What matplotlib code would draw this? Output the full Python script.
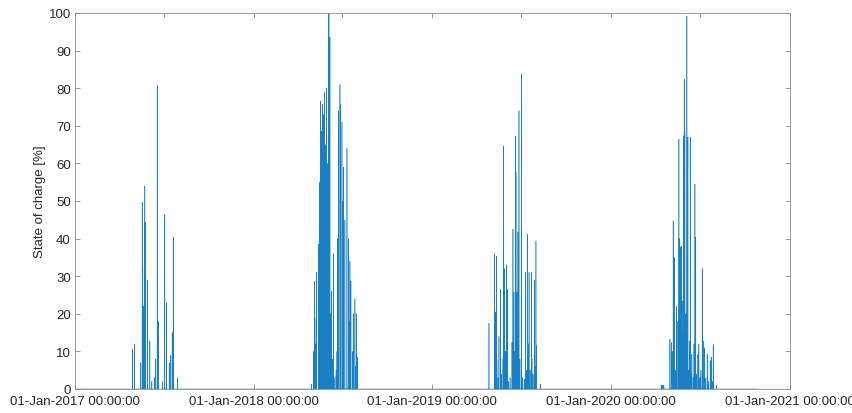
import datetime as dt
import matplotlib
matplotlib.use('Agg')
import matplotlib.pyplot as plt
import matplotlib.dates as mdates

# ---- data: charging spikes (day of year, state of charge %) ----
doy_2017 = [118.5, 122.6, 135.5, 138.3, 140.4, 142.4, 143.7, 144.5, 149.2, 153.9,
            158.0, 162.9, 166.1, 169.0, 169.6, 172.0, 179.8, 184.5, 188.0, 193.5,
            196.8, 199.6, 201.7, 210.5]
soc_2017 = [10.6, 12.0, 7.0, 49.7, 22.0, 33.0, 54.0, 44.4, 29.0, 12.8,
            2.0, 3.0, 8.0, 80.7, 31.0, 18.0, 2.0, 46.5, 23.0, 7.0,
            9.0, 15.0, 40.4, 3.0]

doy_2018 = [119.5, 123.0, 125.1, 126.3, 127.5, 129.8, 133.8, 135.3, 136.2,
            137.3, 140.0, 141.0, 142.0, 143.4, 145.5, 146.5, 147.5,
            150.2, 152.5, 153.7, 154.9, 156.9, 158.3, 160.4,
            162.0, 164.5, 167.0, 169.5, 171.2, 172.3, 174.7, 177.4,
            178.8, 181.5, 183.0, 184.3, 187.5, 191.7,
            194.5, 196.0, 197.8, 199.8, 203.0, 204.7, 208.0, 209.8,
            211.5, 213.5]
soc_2018 = [1.3, 10.0, 28.7, 19.0, 12.0, 31.0, 38.6, 42.0, 55.0,
            76.6, 68.6, 50.0, 75.8, 73.0, 79.0, 35.0, 65.0,
            80.0, 60.0, 99.7, 100.0, 93.6, 20.0, 26.0,
            8.0, 36.0, 3.0, 5.0, 10.0, 40.0, 74.0, 81.0,
            75.8, 71.0, 50.0, 59.0, 45.0, 64.0,
            40.0, 18.0, 34.0, 28.7, 10.0, 20.0, 24.0, 6.0,
            20.0, 8.5]

doy_2019 = [116.9, 128.3, 130.4, 131.8, 133.2, 135.5, 137.3, 140.6, 143.0, 145.5,
            146.7, 148.8, 150.5, 152.2, 154.3, 157.0, 160.0, 163.9, 165.9, 167.9,
            169.5, 171.2, 172.1, 174.1, 176.1, 178.2, 180.2, 183.5, 186.0, 189.0,
            191.8, 193.5, 195.9, 197.3, 198.8, 201.0, 203.5, 204.8, 207.0, 209.5,
            211.0, 212.9, 213.6, 222.4]
soc_2019 = [17.5, 36.0, 20.5, 35.4, 8.0, 3.0, 14.0, 26.6, 4.0, 8.0,
            64.7, 32.0, 10.0, 33.0, 26.6, 2.0, 3.0, 12.5, 42.5, 25.8,
            10.0, 67.3, 57.7, 25.8, 41.8, 74.0, 8.0, 83.8, 3.0, 2.6,
            31.0, 5.0, 41.2, 12.0, 31.0, 5.0, 31.0, 8.0, 4.0, 29.0,
            6.0, 39.4, 11.5, 1.3]

doy_2020 = [103.8, 105.5, 107.3, 109.3, 121.6, 124.2, 126.3, 128.3, 130.4, 132.5,
            135.3, 137.9, 140.0, 140.6, 142.6, 144.7, 146.7, 148.0, 149.6, 150.8,
            152.2, 154.3, 156.3, 158.4, 160.0, 161.8, 163.1, 164.8, 166.5, 169.0,
            170.8, 172.7, 174.1, 176.0, 178.8, 180.8, 183.0, 185.0, 187.6, 189.6,
            192.5, 195.0, 197.8, 200.0, 203.9, 206.0, 208.0, 210.1, 216.3]
soc_2020 = [1.0, 1.0, 1.0, 1.0, 13.3, 12.4, 10.0, 44.7, 35.0, 5.0,
            22.0, 18.0, 66.5, 40.0, 37.8, 38.0, 23.5, 15.0, 67.3, 82.4,
            68.6, 20.0, 99.2, 67.0, 5.0, 12.8, 67.0, 4.0, 9.3, 3.0,
            12.0, 54.5, 40.4, 4.0, 9.3, 12.0, 3.0, 5.0, 32.0, 12.8,
            11.0, 3.0, 9.3, 2.0, 7.5, 8.5, 2.0, 11.8, 1.0]

series_start = '2017-01-01'
series_end = '2020-10-28'
tick_years = [2017, 2018, 2019, 2020, 2021]
ylabel = 'State of charge [%]'

# ---- build the time series ----
events = []
for year, doys, socs in [(2017, doy_2017, soc_2017), (2018, doy_2018, soc_2018),
                         (2019, doy_2019, soc_2019), (2020, doy_2020, soc_2020)]:
    base = dt.datetime(year, 1, 1)
    for d, v in zip(doys, socs):
        t = base + dt.timedelta(days=d - 1)
        events.append((t - dt.timedelta(hours=3), 0.0))
        events.append((t, v))
        events.append((t + dt.timedelta(hours=3), 0.0))
events.append((dt.datetime.fromisoformat(series_start), 0.0))
events.append((dt.datetime.fromisoformat(series_end), 0.0))
events.sort(key=lambda e: e[0])
times = [e[0] for e in events]
vals = [e[1] for e in events]

# ---- plot ----
plt.rcParams['font.family'] = ['Liberation Sans', 'DejaVu Sans']
fig = plt.figure(figsize=(8.53, 4.14), dpi=100)
ax = fig.add_axes([75 / 853, 24 / 414, 715 / 853, 376 / 414])
ax.plot(times, vals, color='#0072BD', linewidth=0.4, alpha=0.9)

ax.set_xlim(dt.datetime(2017, 1, 1), dt.datetime(2021, 1, 1))
ax.set_ylim(0, 100)
ax.set_yticks(range(0, 101, 10))
ax.set_xticks([dt.datetime(y, 1, 1) for y in tick_years])
ax.xaxis.set_major_formatter(mdates.DateFormatter('%d-%b-%Y %H:%M:%S'))
ax.set_xticks([dt.datetime(y, 7, 1) for y in tick_years[:-1]], minor=True)

spine_color = '#8a8a8a'
label_color = '#262626'
for s in ax.spines.values():
    s.set_color(spine_color)
    s.set_linewidth(0.6)
ax.tick_params(axis='both', which='both', direction='in', length=3.5, width=0.6,
               color=spine_color, labelcolor=label_color, labelsize=9.5,
               top=True, right=True)
ax.tick_params(axis='x', which='major', pad=4)
ax.tick_params(axis='y', which='major', pad=3)
ax.set_ylabel(ylabel, fontsize=9.5, color=label_color, labelpad=1.5)

fig.savefig('out.png', dpi=100)
